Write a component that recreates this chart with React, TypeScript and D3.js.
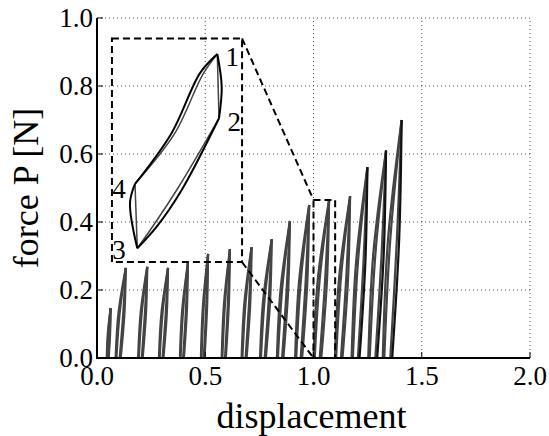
import React from "react";
import * as d3 from "d3";

// axis ticks
const xTicks = [0, 0.5, 1.0, 1.5, 2.0];
const yTicks = [0, 0.2, 0.4, 0.6, 0.8, 1.0];

// loading cycles: start displacement, peak displacement, peak force
const loopBase = [0.045, 0.086, 0.19, 0.286, 0.383, 0.48, 0.576, 0.668, 0.753, 0.831, 0.915, 1.0, 1.099, 1.176, 1.253, 1.32];
const loopPeakX = [0.063, 0.133, 0.232, 0.328, 0.42, 0.513, 0.614, 0.714, 0.807, 0.891, 0.98, 1.072, 1.169, 1.249, 1.335, 1.407];
const loopPeakY = [0.147, 0.265, 0.268, 0.265, 0.28, 0.306, 0.32, 0.326, 0.349, 0.403, 0.45, 0.465, 0.476, 0.561, 0.61, 0.7];

// shape of the repeated cycles, as fractions of (peak - base) and of the peak force
const cycleCurves: [number, number][][] = [
  [[0, 0], [0.28, 0.5], [1, 1]],
  [[0.08, 0], [0.4, 0.5], [1, 1]],
  [[1, 1], [0.75, 0.5], [0.4, 0]],
  [[1, 1], [0.87, 0.5], [0.5, 0]],
];

// zoomed loop (drawn in the inset), outer cycle segments 4-1, 1-2, 2-3, 3-4
const insetLoad: [number, number][] = [[0.1755, 0.5118], [0.345, 0.662], [0.4757, 0.838], [0.5557, 0.8941]];
const insetDrop: [number, number][] = [[0.5557, 0.8941], [0.576, 0.798], [0.5635, 0.705]];
const insetUnload: [number, number][] = [[0.5635, 0.705], [0.3912, 0.4941], [0.2758, 0.3862], [0.1861, 0.3226]];
const insetRise: [number, number][] = [[0.1861, 0.3226], [0.1524, 0.4559], [0.1755, 0.5118]];
// inner cycle
const insetLoadIn: [number, number][] = [[0.1755, 0.5118], [0.3575, 0.659], [0.4896, 0.835], [0.5557, 0.8941]];
const insetDropIn: [number, number][] = [[0.5557, 0.8941], [0.5635, 0.705]];
const insetUnloadIn: [number, number][] = [[0.5635, 0.705], [0.374, 0.5], [0.2587, 0.3882], [0.1861, 0.3226]];
const insetRiseIn: [number, number][] = [[0.1861, 0.3226], [0.1755, 0.5118]];

// zoom boxes
const bigBox = { x0: 0.069, x1: 0.67, y0: 0.282, y1: 0.94 };
const smallBox = { x0: 1.0, x1: 1.1, y0: 0, y1: 0.465 };

const pointLabels = ["1", "2", "3", "4"];
const pointLabelPos: [number, number][] = [[0.593, 0.86], [0.603, 0.669], [0.07, 0.292], [0.07, 0.472]];

const W = 549;
const H = 436;
const margin = { top: 18, right: 19, bottom: 78, left: 97 };
const font = "'Liberation Serif', 'Times New Roman', Times, serif";

export default function App() {
  const x = d3.scaleLinear().domain([0, 2]).range([margin.left, W - margin.right]);
  const y = d3.scaleLinear().domain([0, 1]).range([H - margin.bottom, margin.top]);

  const line = d3
    .line<[number, number]>()
    .x((d) => x(d[0]))
    .y((d) => y(d[1]))
    .curve(d3.curveCatmullRom.alpha(0.5));

  const outerSegs = [insetLoad, insetDrop, insetUnload, insetRise];
  const innerSegs = [insetLoadIn, insetDropIn, insetUnloadIn, insetRiseIn];

  const place = (seg: [number, number][], i: number) =>
    seg.map(([u, v]) => [loopBase[i] + u * (loopPeakX[i] - loopBase[i]), v * loopPeakY[i]] as [number, number]);

  const x0 = x(0), yb = y(0);

  return (
    <svg width={W} height={H} style={{ position: "absolute", left: 0, top: 0, background: "#fff" }}>
      {/* grid */}
      <g stroke="#555" strokeWidth={1} strokeDasharray="1,3">
        {xTicks.filter((t) => t > 0).map((t) => (
          <line key={"gx" + t} x1={x(t)} x2={x(t)} y1={y(0)} y2={y(1)} />
        ))}
        {yTicks.filter((t) => t > 0).map((t) => (
          <line key={"gy" + t} x1={x(0)} x2={x(2)} y1={y(t)} y2={y(t)} />
        ))}
      </g>

      {/* cycles */}
      <g fill="none" strokeLinejoin="round">
        {loopBase.map((_, i) => (
          <g key={"loop" + i} strokeWidth={2.2}>
            {cycleCurves.map((c, j) => (
              <path key={j} d={line(place(c, i)) || ""} stroke={i >= 13 && j === 3 ? "#111" : "#444"} />
            ))}
          </g>
        ))}
      </g>

      {/* inset loop */}
      <g fill="none">
        {innerSegs.map((seg, j) => (
          <path key={"ii" + j} d={line(seg) || ""} stroke="#444" strokeWidth={1.5} />
        ))}
        {outerSegs.map((seg, j) => (
          <path key={"io" + j} d={line(seg) || ""} stroke="#000" strokeWidth={2} />
        ))}
      </g>

      {/* zoom boxes */}
      <g fill="none" stroke="#000" strokeWidth={2} strokeDasharray="7,4">
        <rect x={x(bigBox.x0)} y={y(bigBox.y1)} width={x(bigBox.x1) - x(bigBox.x0)} height={y(bigBox.y0) - y(bigBox.y1)} />
        <rect x={x(smallBox.x0)} y={y(smallBox.y1)} width={x(smallBox.x1) - x(smallBox.x0)} height={y(smallBox.y0) - y(smallBox.y1)} />
        <line x1={x(bigBox.x1)} y1={y(bigBox.y1)} x2={x(smallBox.x0)} y2={y(smallBox.y1)} />
        <line x1={x(bigBox.x1)} y1={y(bigBox.y0)} x2={x(smallBox.x0)} y2={y(smallBox.y0)} />
      </g>

      {pointLabels.map((t, i) => (
        <text key={"pl" + t} x={x(pointLabelPos[i][0])} y={y(pointLabelPos[i][1])} fontFamily={font} fontSize={27} fill="#000">
          {t}
        </text>
      ))}

      {/* axes */}
      <g stroke="#000" strokeWidth={2} fill="none">
        <line x1={x0} x2={x0} y1={y(0) + 1} y2={y(1)} />
        <line x1={x0 - 1} x2={x(2)} y1={yb} y2={yb} />
      </g>
      <g stroke="#000" strokeWidth={1}>
        {xTicks.map((t) => (
          <line key={"tx" + t} x1={x(t)} x2={x(t)} y1={yb} y2={yb - 6} />
        ))}
        {yTicks.map((t) => (
          <line key={"ty" + t} x1={x0} x2={x0 + 6} y1={y(t)} y2={y(t)} />
        ))}
      </g>
      <g fontFamily={font} fontSize={27} fill="#000">
        {xTicks.map((t) => (
          <text key={"lx" + t} x={x(t)} y={yb + 27} textAnchor="middle">
            {d3.format(".1f")(t)}
          </text>
        ))}
        {yTicks.map((t) => (
          <text key={"ly" + t} x={x0 - 4} y={y(t) + 9} textAnchor="end">
            {d3.format(".1f")(t)}
          </text>
        ))}
      </g>
      <text x={x(1) - 2} y={H - 8} textAnchor="middle" fontFamily={font} fontSize={36} fill="#000">
        displacement
      </text>
      <text
        transform={`translate(38,${y(0.5)}) rotate(-90)`}
        textAnchor="middle"
        fontFamily={font}
        fontSize={36}
        fill="#000"
      >
        force P [N]
      </text>
    </svg>
  );
}
